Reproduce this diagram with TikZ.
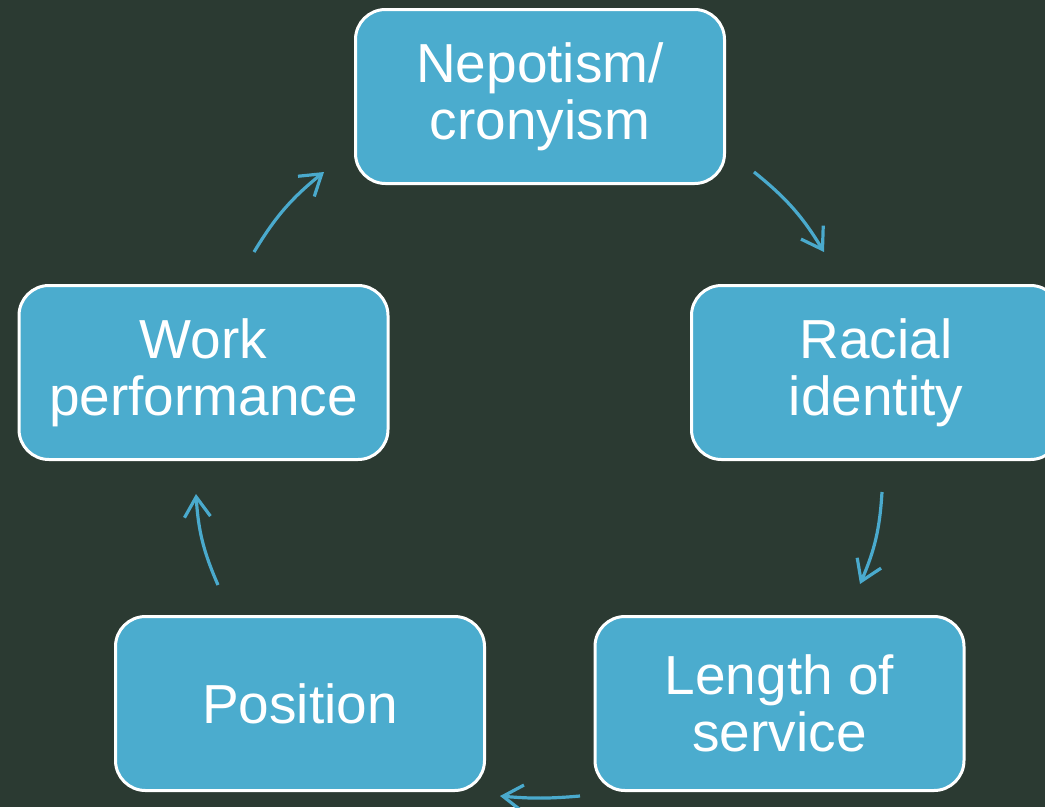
\documentclass[tikz,border=0pt]{standalone}
\usepackage{fontspec}
\setmainfont{Liberation Sans}
\usepackage{xcolor}
\usetikzlibrary{arrows.meta,positioning}
\definecolor{bgdark}{RGB}{43,58,50}
\definecolor{cyclefill}{RGB}{75,172,206}
\definecolor{cyclearrow}{RGB}{74,170,205}
\begin{document}
\begin{tikzpicture}[
  x=1pt,y=-1pt,
  stage/.style={draw=white,line width=3pt,fill=cyclefill,rounded corners=30pt,
    minimum width=369pt,minimum height=174pt,align=center,text=white,
    font=\fontsize{55}{57}\selectfont,inner sep=0pt},
  cyc/.style={draw=cyclearrow,line width=3.2pt,-{Straight Barb[length=20pt,width=26pt,line width=3.2pt]}},
]
\fill[bgdark] (0,0) rectangle (1045,807);
\useasboundingbox (0,0) rectangle (1045,807);
\node[stage] (nep) at (540,96.5) {Nepotism/\\cronyism};
\node[stage] (race) at (876,372.5) {Racial\\identity};
\node[stage] (los) at (779.5,703.5) {Length of\\service};
\node[stage] (pos) at (300,703.5) {Position};
\node[stage] (work) at (203.5,372.5) {Work\\performance};
% arrow ends around the cycle
\coordinate (nep-out) at (754,172);
\coordinate (race-in) at (824,252);
\coordinate (race-out) at (882,492);
\coordinate (los-in) at (860,584);
\coordinate (los-out) at (580,796);
\coordinate (pos-in) at (500,796);
\coordinate (pos-out) at (218,585);
\coordinate (work-in) at (196,494);
\coordinate (work-out) at (254,252);
\coordinate (nep-in) at (324,172);
\draw[cyc] (nep-out) to[bend left=10] (race-in);
\draw[cyc] (race-out) to[bend left=10] (los-in);
\draw[cyc] (los-out) to[bend left=5] (pos-in);
\draw[cyc] (pos-out) to[bend left=10] (work-in);
\draw[cyc] (work-out) to[bend left=10] (nep-in);
\end{tikzpicture}
\end{document}
